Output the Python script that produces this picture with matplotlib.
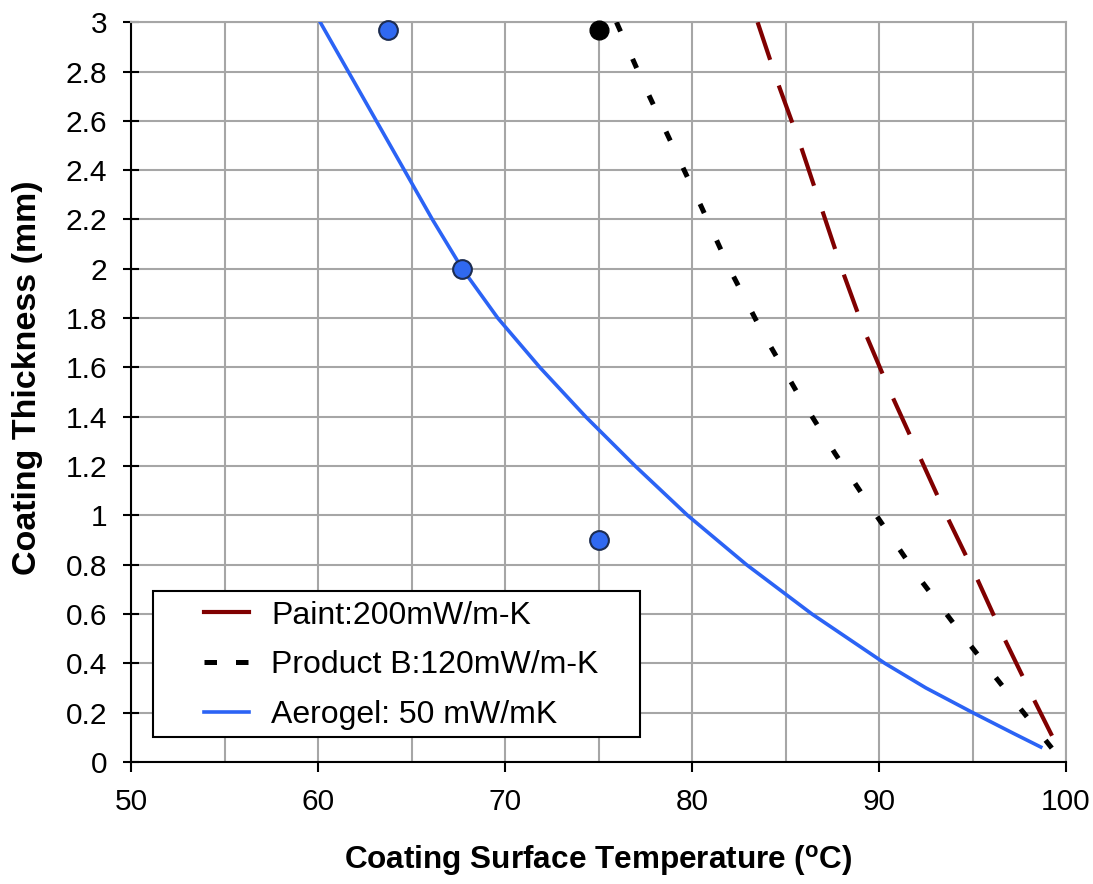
import matplotlib
matplotlib.use("Agg")
import matplotlib.pyplot as plt
from matplotlib.patches import Rectangle
from matplotlib.lines import Line2D

plt.rcParams["font.family"] = ["Liberation Sans", "DejaVu Sans"]

# data
paint_temp = [83.5, 84.6, 85.8, 86.9, 88.0, 89.2, 90.6, 92.1, 93.6, 95.2, 96.7, 98.3, 99.75]
paint_thick = [3.0, 2.75, 2.5, 2.25, 2.0, 1.75, 1.5, 1.25, 1.0, 0.75, 0.5, 0.25, 0.03]

productb_temp = [75.95, 77.4, 78.95, 80.5, 82.0, 83.7, 85.6, 87.65, 89.85, 92.1, 94.6, 97.2, 99.3]
productb_thick = [3.0, 2.75, 2.5, 2.25, 2.0, 1.75, 1.5, 1.25, 1.0, 0.75, 0.5, 0.25, 0.05]

aerogel_temp = [60.1, 61.6, 63.1, 64.6, 66.1, 67.7, 69.6, 71.85, 74.3, 76.95,
                79.75, 82.9, 86.4, 90.3, 92.5, 95.0, 97.2, 98.65]
aerogel_thick = [3.0, 2.8, 2.6, 2.4, 2.2, 2.0, 1.8, 1.6, 1.4, 1.2,
                 1.0, 0.8, 0.6, 0.4, 0.3, 0.2, 0.115, 0.06]

blue_pts_temp = [63.7, 67.7, 75.0]
blue_pts_thick = [2.97, 2.0, 0.9]
black_pts_temp = [75.0]
black_pts_thick = [2.97]

labels = ["Paint:200mW/m-K", "Product B:120mW/m-K", "Aerogel: 50 mW/mK"]

x_ticks = [50, 60, 70, 80, 90, 100]
x_ticks_minor = [55, 65, 75, 85, 95]
y_ticks = [0, 0.2, 0.4, 0.6, 0.8, 1, 1.2, 1.4, 1.6, 1.8, 2, 2.2, 2.4, 2.6, 2.8, 3]
y_ticklabels = ["0", "0.2", "0.4", "0.6", "0.8", "1", "1.2", "1.4", "1.6",
                "1.8", "2", "2.2", "2.4", "2.6", "2.8", "3"]

fig = plt.figure(figsize=(10.93, 8.84), dpi=100)
ax = fig.add_axes([0.1203, 0.1382, 0.855, 0.8366])

red = "#800000"
blue = "#2b63f5"

ax.plot(paint_temp, paint_thick, color=red, lw=3, ls=(0, (9.5, 6.5)),
        dash_capstyle="butt", zorder=3)
ax.plot(productb_temp, productb_thick, color="black", lw=3.6, ls=(0, (2, 6.0)),
        dash_capstyle="butt", zorder=3)
ax.plot(aerogel_temp, aerogel_thick, color=blue, lw=2.6, zorder=3)

ax.plot(blue_pts_temp, blue_pts_thick, "o", ms=13.5, mfc="#3069f0", mec="#1c2c50",
        mew=1.5, zorder=5, clip_on=False)
ax.plot(black_pts_temp, black_pts_thick, "o", ms=13.5, mfc="black", mec="black",
        zorder=5, clip_on=False)

ax.set_xlim(50, 100)
ax.set_ylim(0, 3)
ax.set_xticks(x_ticks, [str(v) for v in x_ticks])
ax.set_xticks(x_ticks_minor, minor=True)
ax.set_yticks(y_ticks, y_ticklabels)

ax.grid(True, which="both", color="#a6a6a6", lw=1.5)
ax.set_axisbelow(True)

ax.tick_params(axis="x", which="major", direction="out", length=7, width=1.5,
               labelsize=21.5, pad=12, colors="black")
ax.tick_params(axis="x", which="minor", length=0)
ax.tick_params(axis="y", direction="inout", length=11, width=1.5,
               labelsize=21.5, pad=12)

for s in ["left", "bottom"]:
    ax.spines[s].set_linewidth(1.5)
    ax.spines[s].set_color("black")
for s in ["top", "right"]:
    ax.spines[s].set_linewidth(1.5)
    ax.spines[s].set_color("#a6a6a6")

ax.set_xlabel("Coating Surface Temperature ($\\mathregular{^{o}}$C)",
              fontsize=22.7, fontweight="bold", labelpad=19)
ax.set_ylabel("Coating Thickness (mm)", fontsize=24.5, fontweight="bold")
ax.yaxis.set_label_coords(-0.095, 0.52)

# legend: frame drawn separately so the side padding can be wider than the top
ax.add_patch(Rectangle((0.023, 0.0335), 0.521, 0.1975, transform=ax.transAxes,
                       facecolor="white", edgecolor="black", lw=1.5, zorder=6))
handles = [
    Line2D([], [], color=red, lw=3),
    Line2D([], [], color="black", lw=3.6, ls=(0, (2.5, 3.8)), dash_capstyle="butt"),
    Line2D([], [], color=blue, lw=2.6),
]
leg = ax.legend(handles, labels, loc="upper left", bbox_to_anchor=(0.078, 0.218),
                frameon=False, fontsize=23, handlelength=1.4, handletextpad=0.7,
                labelspacing=0.62, borderpad=0, borderaxespad=0)
leg.set_zorder(7)

fig.savefig("out.png", dpi=100)
